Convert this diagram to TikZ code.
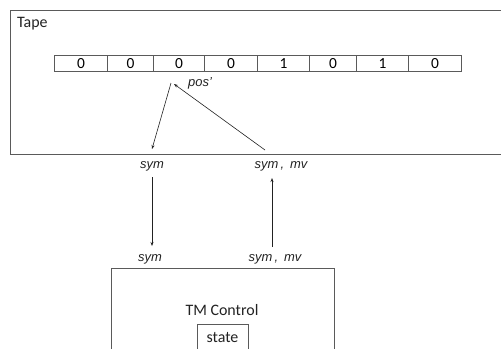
\documentclass[tikz,border=0pt]{standalone}
\usepackage{fontspec}
\setmainfont{Carlito}
\newfontfamily\labfont{Liberation Sans}
\usetikzlibrary{arrows.meta}
\definecolor{edge}{HTML}{5A5A5A}
\definecolor{ink}{HTML}{222222}
\tikzset{
  frame/.style={draw=edge, line width=0.9bp, inner sep=0pt},
  cell/.style={draw=edge, line width=0.9bp, minimum height=16bp, inner sep=0pt, font=\fontsize{15.5}{16}\selectfont},
  lbl/.style={font=\labfont\itshape\fontsize{13}{14}\selectfont, inner sep=0pt, text=ink},
  arr/.style={draw=ink, line width=0.6bp, -{Stealth[length=4bp,width=3bp]}},
  plain/.style={font=\fontsize{16}{17}\selectfont, inner sep=0pt, text=ink}
}
\begin{document}
\begin{tikzpicture}[x=1bp,y=-1bp]
\useasboundingbox (0,0) rectangle (501,348);
\clip (0,0) rectangle (501,348);
% Tape frame
\node[frame, anchor=north west, minimum width=500bp, minimum height=144bp] (tape) at (10,9.5) {};
\node[plain, anchor=west] (tapelbl) at (17,24) {Tape};
% Cells
\node[cell, anchor=north west, minimum width=53bp] (c1) at (54,55) {0};
\node[cell, anchor=north west, minimum width=46bp] (c2) at (107,55) {0};
\node[cell, anchor=north west, minimum width=51bp] (c3) at (153,55) {0};
\node[cell, anchor=north west, minimum width=53bp] (c4) at (204,55) {0};
\node[cell, anchor=north west, minimum width=52bp] (c5) at (257,55) {1};
\node[cell, anchor=north west, minimum width=47bp] (c6) at (309,55) {0};
\node[cell, anchor=north west, minimum width=52bp] (c7) at (356,55) {1};
\node[cell, anchor=north west, minimum width=53bp] (c8) at (408,55) {0};
% head arrows
\coordinate (hd) at (171,83);
\coordinate (hdin) at (174,84);
\coordinate (rd) at (152,149);
\coordinate (wr) at (265,150);
\node[lbl, anchor=west] (pos) at (188,83) {pos’};
\draw[arr] (hd) -- (rd);
\draw[arr] (wr) -- (hdin);
% labels between
\node[lbl] (sym1) at (152,166) {sym};
\node[lbl] (symmv1) at (281,166) {sym\,,\, mv};
\node[lbl] (sym2) at (150,259) {sym};
\node[lbl] (symmv2) at (275,259) {sym\,,\, mv};
\coordinate (d1) at (152,177);
\coordinate (d2) at (152,246);
\coordinate (u1) at (272,247);
\coordinate (u2) at (272,178);
\draw[arr] (d1) -- (d2);
\draw[arr] (u1) -- (u2);
% TM control
\node[frame, anchor=north west, minimum width=223bp, minimum height=120bp] (tm) at (111,268) {};
\node[plain] (tmlbl) at (222,310) {TM Control};
\node[frame, anchor=north west, minimum width=51bp, minimum height=40bp] (state) at (197,324) {};
\node[plain] (statelbl) at (222.5,338) {state};
\end{tikzpicture}
\end{document}
